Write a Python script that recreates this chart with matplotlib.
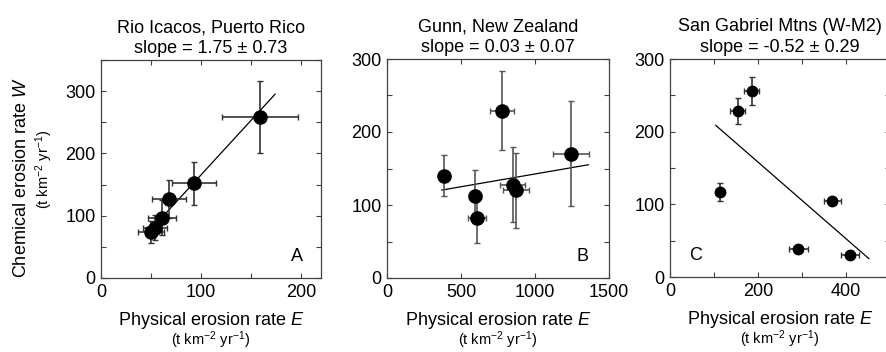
import matplotlib
matplotlib.use("Agg")
import matplotlib.pyplot as plt
from matplotlib.ticker import MultipleLocator, FixedLocator
import numpy as np

plt.rcParams['font.family'] = ['Liberation Sans', 'DejaVu Sans']
plt.rcParams['mathtext.fontset'] = 'custom'
plt.rcParams['mathtext.rm'] = 'Liberation Sans'
plt.rcParams['mathtext.it'] = 'Liberation Sans:italic'

# ---- Data ----
# Panel A: Rio Icacos, Puerto Rico
a_E = [159, 93, 68, 61, 54, 50]
a_Eerr = [38, 22, 17, 14, 12, 13]
a_W = [259, 152, 127, 97, 81, 74]
a_Werr = [58, 35, 31, 28, 20, 18]
a_fit = (1.75, -9.5, 50, 174)  # slope, intercept, x start, x end

# Panel B: Gunn, New Zealand
b_E = [779, 383, 595, 606, 849, 872, 1241]
b_Eerr = [81, 15, 42, 62, 84, 88, 121]
b_W = [229, 140, 112, 82, 128, 120, 170]
b_Werr = [54, 28, 36, 34, 51, 51, 72]
b_fit = (0.035, 107.5, 370, 1360)

# Panel C: San Gabriel Mtns (W-M2)
c_E = [186, 154, 114, 369, 292, 409]
c_Eerr = [17, 17, 5, 20, 21, 21]
c_W = [256, 229, 117, 104, 39, 30]
c_Werr = [19, 18, 12, 4, 3, 4]
c_fit = (-0.527, 263.5, 104, 452)

titles = ["Rio Icacos, Puerto Rico", "Gunn, New Zealand", "San Gabriel Mtns (W-M2)"]
slopes = ["slope = 1.75 \u00b1 0.73", "slope = 0.03 \u00b1 0.07", "slope = -0.52 \u00b1 0.29"]
letters = ["A", "B", "C"]

W, H = 887, 352
fig = plt.figure(figsize=(W / 100, H / 100), dpi=100)

def ax_rect(l, r, t, b):
    return [l / W, 1 - b / H, (r - l) / W, (b - t) / H]

axA = fig.add_axes(ax_rect(101, 321, 60, 278))
axB = fig.add_axes(ax_rect(387, 609, 59, 278))
axC = fig.add_axes(ax_rect(670, 890, 59, 277))

spine_col = '#404040'
FS_TICK = 13
FS_TITLE = 13

panels = [
    (axA, a_E, a_Eerr, a_W, a_Werr, a_fit, (0, 220), (0, 350), [0, 100, 200], 50, 9.5, '#333333'),
    (axB, b_E, b_Eerr, b_W, b_Werr, b_fit, (0, 1500), (0, 300), [0, 500, 1000, 1500], 500, 9.5, '#555555'),
    (axC, c_E, c_Eerr, c_W, c_Werr, c_fit, (0, 500), (0, 300), [0, 200, 400], 100, 7.5, '#333333'),
]

letter_pos = [(0.89, 0.10, 'center'), (0.88, 0.10, 'center'), (0.114, 0.10, 'center')]

for i, (ax, E, Ee, Wv, We, fit, xl, yl, xt, xminor, ms, ecol) in enumerate(panels):
    ax.errorbar(E, Wv, xerr=Ee, yerr=We, fmt='o', color='black', ms=ms,
                ecolor=ecol, elinewidth=1.2, capsize=2, capthick=1, zorder=3)
    s, b0, x0, x1 = fit
    xs = np.array([x0, x1])
    ax.plot(xs, s * xs + b0, color='black', lw=0.9, zorder=2)
    ax.set_xlim(*xl)
    ax.set_ylim(*yl)
    ax.xaxis.set_major_locator(FixedLocator(xt))
    ax.xaxis.set_minor_locator(MultipleLocator(xminor))
    ax.yaxis.set_major_locator(MultipleLocator(100))
    ax.yaxis.set_minor_locator(MultipleLocator(50))
    ax.tick_params(which='both', direction='in', top=True, right=True,
                   length=3.5, width=0.8, color=spine_col, labelsize=FS_TICK, pad=4)
    for sp in ax.spines.values():
        sp.set_color(spine_col)
        sp.set_linewidth(0.9)
    ax.set_title(titles[i] + "\n" + slopes[i], fontsize=FS_TITLE, pad=5, linespacing=1.3)
    lx, ly, ha = letter_pos[i]
    ax.text(lx, ly, letters[i], transform=ax.transAxes, fontsize=13, ha=ha, va='center')
    ax.text(0.5, -0.195, r'Physical erosion rate $\mathit{E}$', transform=ax.transAxes,
            fontsize=13, ha='center', va='center')
    ax.text(0.5, -0.285, r'(t km$^{-2}$ yr$^{-1}$)', transform=ax.transAxes,
            fontsize=10.5, ha='center', va='center')

axA.text(-0.36, 0.46, r'Chemical erosion rate $\mathit{W}$', transform=axA.transAxes,
         fontsize=13, ha='center', va='center', rotation=90)
axA.text(-0.26, 0.5, r'(t km$^{-2}$ yr$^{-1}$)', transform=axA.transAxes,
         fontsize=10.5, ha='center', va='center', rotation=90)

fig.savefig('out.png', dpi=100)
